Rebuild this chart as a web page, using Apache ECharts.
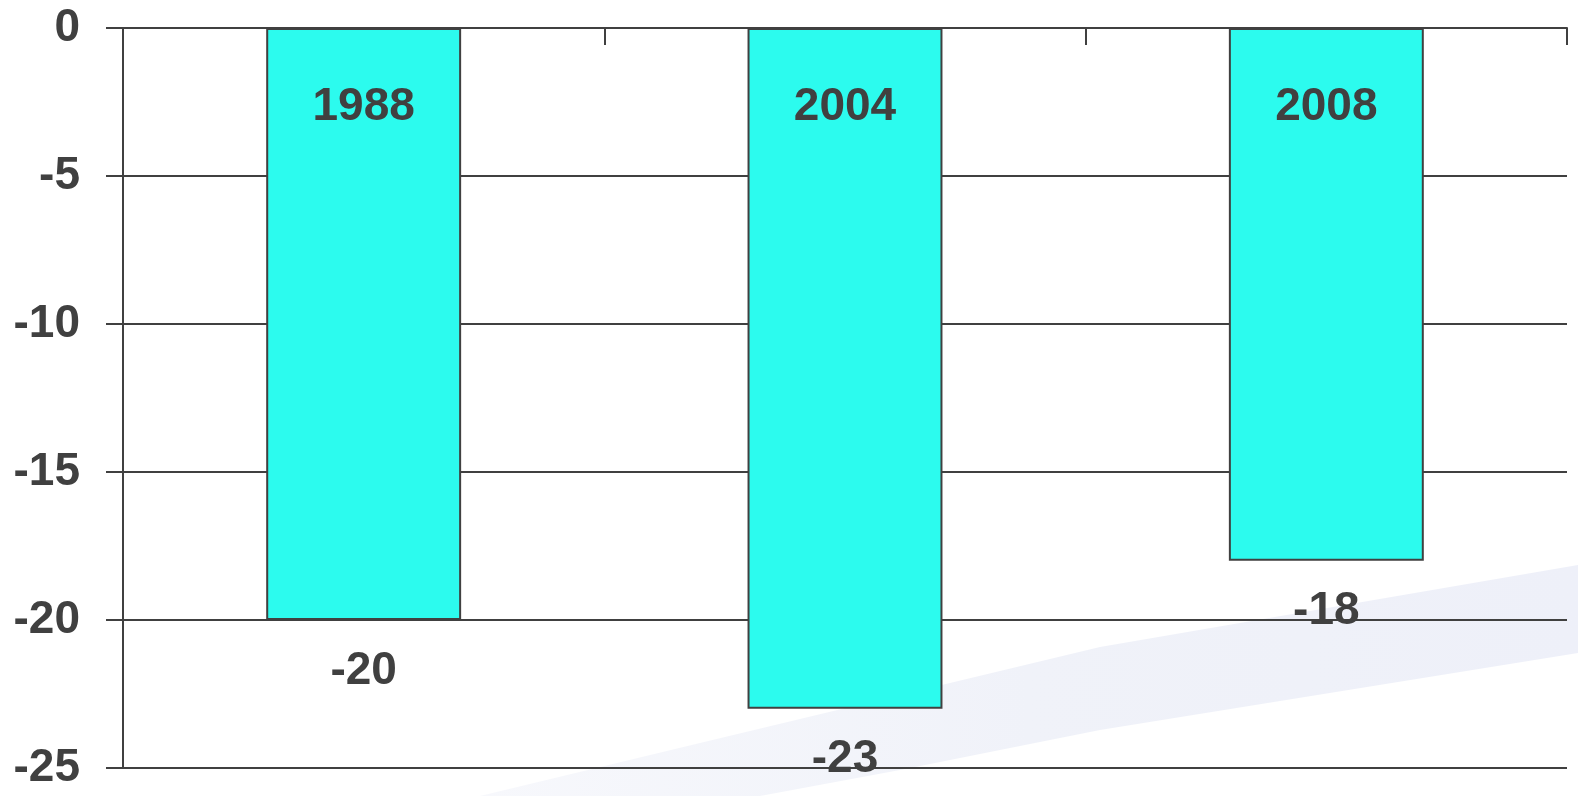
<!DOCTYPE html>
<html><head><meta charset="utf-8">
<script src="https://cdn.jsdelivr.net/npm/echarts@6/dist/echarts.min.js"></script>
<style>html,body{margin:0;padding:0;background:#fff;overflow:hidden}#c{width:1578px;height:796px}</style>
</head><body><div id="c"></div>
<script>
const categories = ['1988', '2004', '2008'];
const values = [-20, -23, -18];
const yTicks = { min: -25, max: 0, interval: 5 };

const chart = echarts.init(document.getElementById('c'));
const W = chart.getWidth(), H = chart.getHeight();
const txt = '#404040';
const font = 'Liberation Sans, Arial, sans-serif';
chart.setOption({
  animation: false,
  backgroundColor: '#ffffff',
  graphic: [{
    type: 'polygon', z: -10, silent: true,
    shape: { points: [[480,H],[700,H-53],[1100,H-149],[W,H-231],[W,H-143],[1100,H-66],[900,H-26],[760,H]] },
    style: { fill: {
      type: 'linear', x: 0, y: 0, x2: 1, y2: 0,
      colorStops: [{ offset: 0, color: '#f7f8fc' }, { offset: 0.5, color: '#f0f2f9' }, { offset: 1, color: '#eef0f9' }]
    } }
  }],
  grid: { left: 123, right: 11, top: 28, bottom: 28, containLabel: false },
  xAxis: {
    type: 'category', data: categories,
    axisLine: { onZero: true, lineStyle: { color: '#404040', width: 2 } },
    axisTick: { show: true, length: 17, lineStyle: { color: '#404040', width: 2 } },
    axisLabel: { show: false },
    splitLine: { show: false }
  },
  yAxis: {
    type: 'value', min: yTicks.min, max: yTicks.max, interval: yTicks.interval,
    axisLine: { show: true, lineStyle: { color: '#404040', width: 2 } },
    axisTick: { show: true, length: 17, lineStyle: { color: '#404040', width: 2 } },
    axisLabel: { color: txt, fontSize: 46, fontWeight: 'bold', fontFamily: font, margin: 43 },
    splitLine: { show: true, lineStyle: { color: '#404040', width: 2 } }
  },
  series: [{
    type: 'bar', data: values, barWidth: '40.5%', z: 2,
    itemStyle: { color: '#2cfbee', borderColor: '#404040', borderWidth: 2 },
    label: { show: true, position: 'bottom', distance: 28, color: txt, fontSize: 46, fontWeight: 'bold', fontFamily: font }
  }, {
    type: 'bar', data: values, barWidth: '40.5%', barGap: '-100%', z: 3,
    itemStyle: { color: 'rgba(0,0,0,0)' },
    label: { show: true, position: 'insideTop', distance: 56, color: txt, fontSize: 46, fontWeight: 'bold', fontFamily: font,
      formatter: p => categories[p.dataIndex] }
  }]
});
</script></body></html>
